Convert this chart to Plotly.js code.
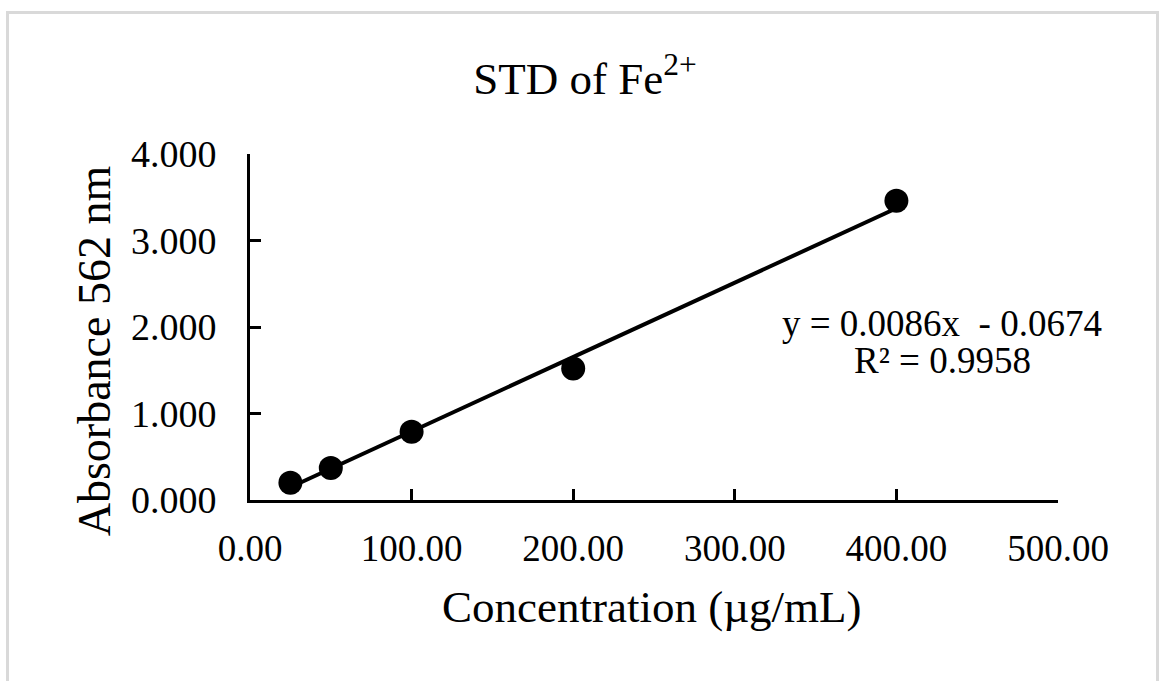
<!DOCTYPE html>
<html>
<head>
<meta charset="utf-8">
<script src="https://cdn.plot.ly/plotly-3.0.1.min.js"></script>
<style>
  html, body { margin: 0; padding: 0; background: #ffffff; }
  #wrap { position: relative; width: 1163px; height: 681px; overflow: hidden; }
  #chart { position: absolute; left: 0; top: 0; width: 1163px; height: 681px; }
  #frame { position: absolute; left: 6px; top: 11px; width: 1147px; height: 700px;
           border: 3px solid #d9d9d9; border-bottom: none; pointer-events: none; }
</style>
</head>
<body>
<div id="wrap">
  <div id="chart"></div>
  <div id="frame"></div>
</div>
<script>
// Data
const concentration = [25, 50, 100, 200, 400];
const absorbance = [0.20, 0.37, 0.79, 1.52, 3.46];
const slope = 0.0086;
const intercept = -0.0674;
const rSquared = 0.9958;
const xTickVals = [0, 100, 200, 300, 400, 500];
const yTickVals = [0, 1, 2, 3, 4];

const serif = "Liberation Serif, Times New Roman, serif";

const xMin = Math.min(...concentration);
const xMax = Math.max(...concentration);
const trendX = [xMin, xMax];
const trendY = trendX.map(v => slope * v + intercept);

const traces = [
  {
    x: trendX, y: trendY, mode: 'lines', type: 'scatter',
    line: { color: '#000000', width: 4 }, hoverinfo: 'skip', showlegend: false
  },
  {
    x: concentration, y: absorbance, mode: 'markers', type: 'scatter',
    marker: { color: '#000000', size: 24, symbol: 'circle' }, showlegend: false
  }
];

const eqText = 'y = 0.' + slope.toFixed(4).split('.')[1] + 'x  - ' + Math.abs(intercept).toFixed(4);
const r2Text = 'R² = ' + rSquared.toFixed(4);

const layout = {
  width: 1163, height: 681,
  margin: { l: 250, r: 105, t: 154, b: 181 },
  paper_bgcolor: '#ffffff', plot_bgcolor: '#ffffff',
  font: { family: serif, color: '#000000' },
  title: {
    text: 'STD of Fe<sup>2+</sup>',
    font: { family: serif, size: 45, color: '#000000' },
    x: 0.503, xanchor: 'center', xref: 'container',
    y: 0.885, yanchor: 'middle', yref: 'container'
  },
  xaxis: {
    range: [0, 500], tickvals: xTickVals, tickformat: '.2f',
    showgrid: false, zeroline: false, showline: true, linecolor: '#000000', linewidth: 3,
    ticks: 'inside', ticklen: 11, tickwidth: 3, tickcolor: '#000000',
    tickfont: { family: serif, size: 37, color: '#000000' },
    ticklabelstandoff: 14, fixedrange: true
  },
  yaxis: {
    range: [0, 4], tickvals: yTickVals, tickformat: '.3f',
    showgrid: false, zeroline: false, showline: true, linecolor: '#000000', linewidth: 3,
    ticks: 'inside', ticklen: 11, tickwidth: 3, tickcolor: '#000000',
    tickfont: { family: serif, size: 38, color: '#000000' },
    ticklabelstandoff: 23, fixedrange: true
  },
  annotations: [
    {
      text: 'Concentration (µg/mL)', xref: 'paper', yref: 'paper',
      x: 0.497, y: -0.31, xanchor: 'center', yanchor: 'middle', showarrow: false,
      font: { family: serif, size: 45, color: '#000000' }
    },
    {
      text: 'Absorbance 562 nm', xref: 'paper', yref: 'paper', textangle: -90,
      x: -0.193, y: 0.43, xanchor: 'center', yanchor: 'middle', showarrow: false,
      font: { family: serif, size: 46, color: '#000000' }
    },
    {
      text: eqText, xref: 'paper', yref: 'paper',
      x: 0.857, y: 0.51, xanchor: 'center', yanchor: 'middle', showarrow: false,
      font: { family: serif, size: 37, color: '#000000' }
    },
    {
      text: r2Text, xref: 'paper', yref: 'paper',
      x: 0.857, y: 0.403, xanchor: 'center', yanchor: 'middle', showarrow: false,
      font: { family: serif, size: 37, color: '#000000' }
    }
  ],
  showlegend: false
};

Plotly.newPlot('chart', traces, layout, { staticPlot: true, displayModeBar: false });
</script>
</body>
</html>
